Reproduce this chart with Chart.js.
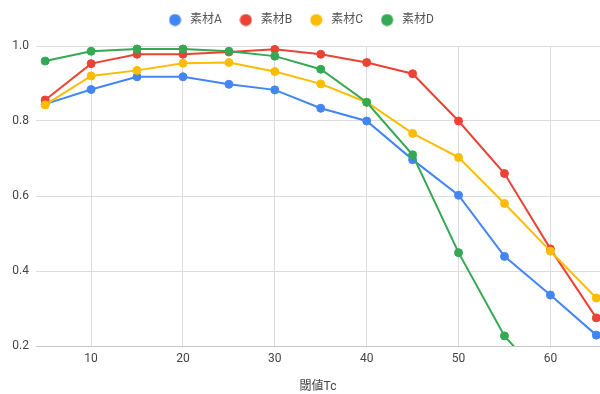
<!DOCTYPE html>
<html>
<head>
<meta charset="utf-8">
<script src="https://cdn.jsdelivr.net/npm/chart.js@4/dist/chart.umd.min.js"></script>
<style>
  html, body { margin: 0; padding: 0; background: #fff; overflow: hidden; }
  #wrap { width: 600px; height: 394px; position: relative; }
</style>
</head>
<body>
<div id="wrap"><canvas id="c"></canvas></div>
<script>
// Threshold Tc values (x) and the rate for each material
const thresholds = [5, 10, 15, 20, 25, 30, 35, 40, 45, 50, 55, 60, 65];
const materialA = [0.845, 0.884, 0.918, 0.918, 0.898, 0.883, 0.834, 0.800, 0.697, 0.602, 0.439, 0.336, 0.229];
const materialB = [0.856, 0.953, 0.978, 0.978, 0.984, 0.991, 0.978, 0.956, 0.926, 0.800, 0.660, 0.459, 0.275];
const materialC = [0.843, 0.920, 0.935, 0.954, 0.956, 0.932, 0.899, 0.850, 0.767, 0.703, 0.580, 0.453, 0.328];
const materialD = [0.960, 0.986, 0.992, 0.992, 0.986, 0.973, 0.938, 0.850, 0.710, 0.449, 0.227, 0.090, null];

const seriesNames = ['素材A', '素材B', '素材C', '素材D'];
const seriesColors = ['#4285F4', '#EA4335', '#FBBC04', '#34A853'];
const xTicks = [10, 20, 30, 40, 50, 60];
const yTicks = [0.2, 0.4, 0.6, 0.8, 1.0];
const xTitle = '閾値Tc';

const FONT = "Roboto, 'Noto Sans CJK JP', sans-serif";

const toPoints = vals => thresholds.map((x, i) => ({ x, y: vals[i] }));
const allSeries = [materialA, materialB, materialC, materialD];

// Round legend marker, a little narrower than its legend slot
function legendDot(color) {
  const c = document.createElement('canvas');
  c.width = 13; c.height = 13;
  const g = c.getContext('2d');
  g.fillStyle = color;
  g.beginPath();
  g.arc(6.5, 6.5, 6, 0, Math.PI * 2);
  g.fill();
  return c;
}

const datasets = allSeries.map((vals, i) => ({
  label: seriesNames[i],
  data: toPoints(vals),
  borderColor: seriesColors[i],
  backgroundColor: seriesColors[i],
  borderWidth: 2,
  pointRadius: 4,
  pointBorderWidth: 1,
  pointHoverRadius: 5,
  tension: 0,
  spanGaps: false,
  order: allSeries.length - 1 - i,   // later series drawn on top
  clip: { left: 10, top: 10, right: 10, bottom: 0 }
}));

new Chart(document.getElementById('c'), {
  type: 'line',
  data: { datasets },
  options: {
    responsive: true,
    maintainAspectRatio: false,
    animation: false,
    layout: { autoPadding: false, padding: { top: -1, left: 0, right: 0, bottom: 0 } },
    plugins: {
      legend: {
        position: 'top',
        weight: 3000,   // keep the legend above the blank spacer row
        labels: {
          usePointStyle: true,
          pointStyleWidth: 18,
          boxHeight: 8,
          padding: 15,
          color: '#555',
          font: { family: FONT, size: 12 },
          sort: (a, b) => a.datasetIndex - b.datasetIndex,
          generateLabels: chart =>
            Chart.defaults.plugins.legend.labels.generateLabels(chart).map(item => ({
              ...item,
              pointStyle: legendDot(seriesColors[item.datasetIndex])
            }))
        }
      },
      // blank row between the legend and the plot area
      title: {
        display: true,
        text: '',
        padding: 0,
        font: { size: 10, lineHeight: 1 }
      },
      tooltip: { enabled: false }
    },
    scales: {
      x: {
        type: 'linear',
        min: 4,
        max: 65.4,
        afterBuildTicks: s => { s.ticks = xTicks.map(v => ({ value: v })); },
        afterFit: s => { s.height = 48; s.paddingLeft = 0; s.paddingRight = 0; },
        ticks: { color: '#444', font: { family: FONT, size: 12 }, padding: 6, maxRotation: 0 },
        grid: { color: '#dcdcdc', lineWidth: 1, drawTicks: false },
        border: { display: false },
        title: {
          display: true,
          text: xTitle,
          color: '#444',
          font: { family: FONT, size: 12 },
          padding: { top: 0, bottom: 0 }
        }
      },
      y: {
        type: 'linear',
        min: 0.2,
        max: 1.0,
        afterBuildTicks: s => { s.ticks = yTicks.map(v => ({ value: v })); },
        afterFit: s => { s.width = 36; },
        ticks: {
          color: '#444',
          font: { family: FONT, size: 12 },
          padding: 7,
          callback: v => Number(v).toFixed(1)
        },
        grid: {
          color: ctx => (ctx.tick && Math.abs(ctx.tick.value - 0.2) < 1e-6) ? '#c8c8c8' : '#dcdcdc',
          lineWidth: 1,
          drawTicks: false
        },
        border: { display: false }
      }
    }
  }
});
</script>
</body>
</html>
